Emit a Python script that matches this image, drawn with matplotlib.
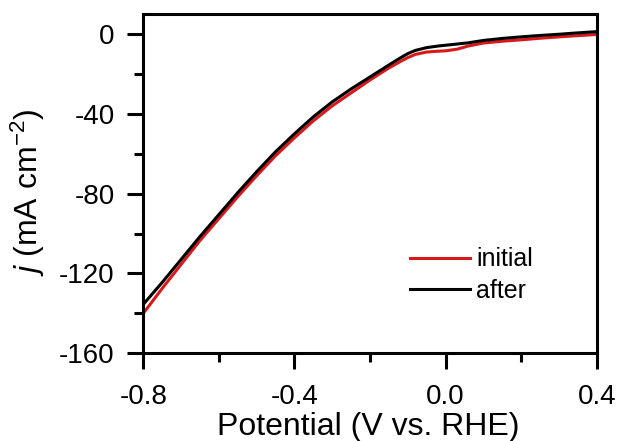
import matplotlib
matplotlib.use('Agg')
import matplotlib.pyplot as plt
from matplotlib.ticker import MultipleLocator, FormatStrFormatter

plt.rcParams['font.family'] = ['Liberation Sans', 'DejaVu Sans']
plt.rcParams['axes.unicode_minus'] = False
plt.rcParams['mathtext.fontset'] = 'custom'
plt.rcParams['mathtext.it'] = 'Liberation Sans:italic'
plt.rcParams['mathtext.rm'] = 'Liberation Sans'

potential = [-0.80, -0.75, -0.70, -0.65, -0.60, -0.55, -0.50, -0.45, -0.40,
             -0.35, -0.30, -0.25, -0.20, -0.15, -0.12, -0.10, -0.08, -0.05,
             -0.02, 0.00, 0.03, 0.06, 0.10, 0.15, 0.20, 0.25, 0.30, 0.35, 0.40]
j_initial = [-140, -127.5, -115.5, -103.5, -92.5, -81.5, -71, -61, -52,
             -43.5, -36, -29.5, -23, -17, -13.8, -11.8, -10.2, -9,
             -8.6, -8.4, -7.6, -6.0, -4.5, -3.6, -2.9, -2.1, -1.4, -0.8, -0.2]
j_after = [-135.5, -124.5, -113, -101.5, -90.5, -79.5, -69, -59, -50,
           -41.5, -34, -27.5, -21.5, -15.5, -12, -9.8, -8.2, -6.8,
           -6.0, -5.6, -5.0, -4.4, -3.2, -2.2, -1.4, -0.7, -0.1, 0.6, 1.2]

fig = plt.figure(figsize=(6.19, 4.41), dpi=100)
ax = fig.add_axes([0.2315, 0.199, 0.7325, 0.769])

ax.plot(potential, j_initial, color='#d7191c', lw=2.2, label='initial')
ax.plot(potential, j_after, color='black', lw=2.2, label='after')

ax.set_xlim(-0.8, 0.4)
ax.set_ylim(-160, 10)
ax.xaxis.set_major_locator(MultipleLocator(0.4))
ax.xaxis.set_minor_locator(MultipleLocator(0.2))
ax.yaxis.set_major_locator(MultipleLocator(40))
ax.yaxis.set_minor_locator(MultipleLocator(20))
ax.xaxis.set_major_formatter(FormatStrFormatter('%.1f'))

for s in ax.spines.values():
    s.set_linewidth(2.2)
ax.tick_params(which='major', direction='out', length=11.5, width=2.2,
               labelsize=20)
ax.tick_params(axis='y', which='major', pad=9)
ax.tick_params(axis='x', which='major', pad=11)
ax.tick_params(which='minor', direction='out', length=6.5, width=2.2)

ax.set_xlabel('Potential (V vs. RHE)', fontsize=23)
ax.set_ylabel(r'$j$ (mA cm$^{-2}$)', fontsize=23)
ax.xaxis.set_label_coords(0.497, -0.172)
ax.yaxis.set_label_coords(-0.212, 0.474)

ax.legend(loc='upper left', bbox_to_anchor=(0.588, 0.312), frameon=False,
          fontsize=18, handlelength=2.4, handletextpad=0.25,
          labelspacing=0.3, borderpad=0, borderaxespad=0)

fig.savefig('out.png', dpi=100)
